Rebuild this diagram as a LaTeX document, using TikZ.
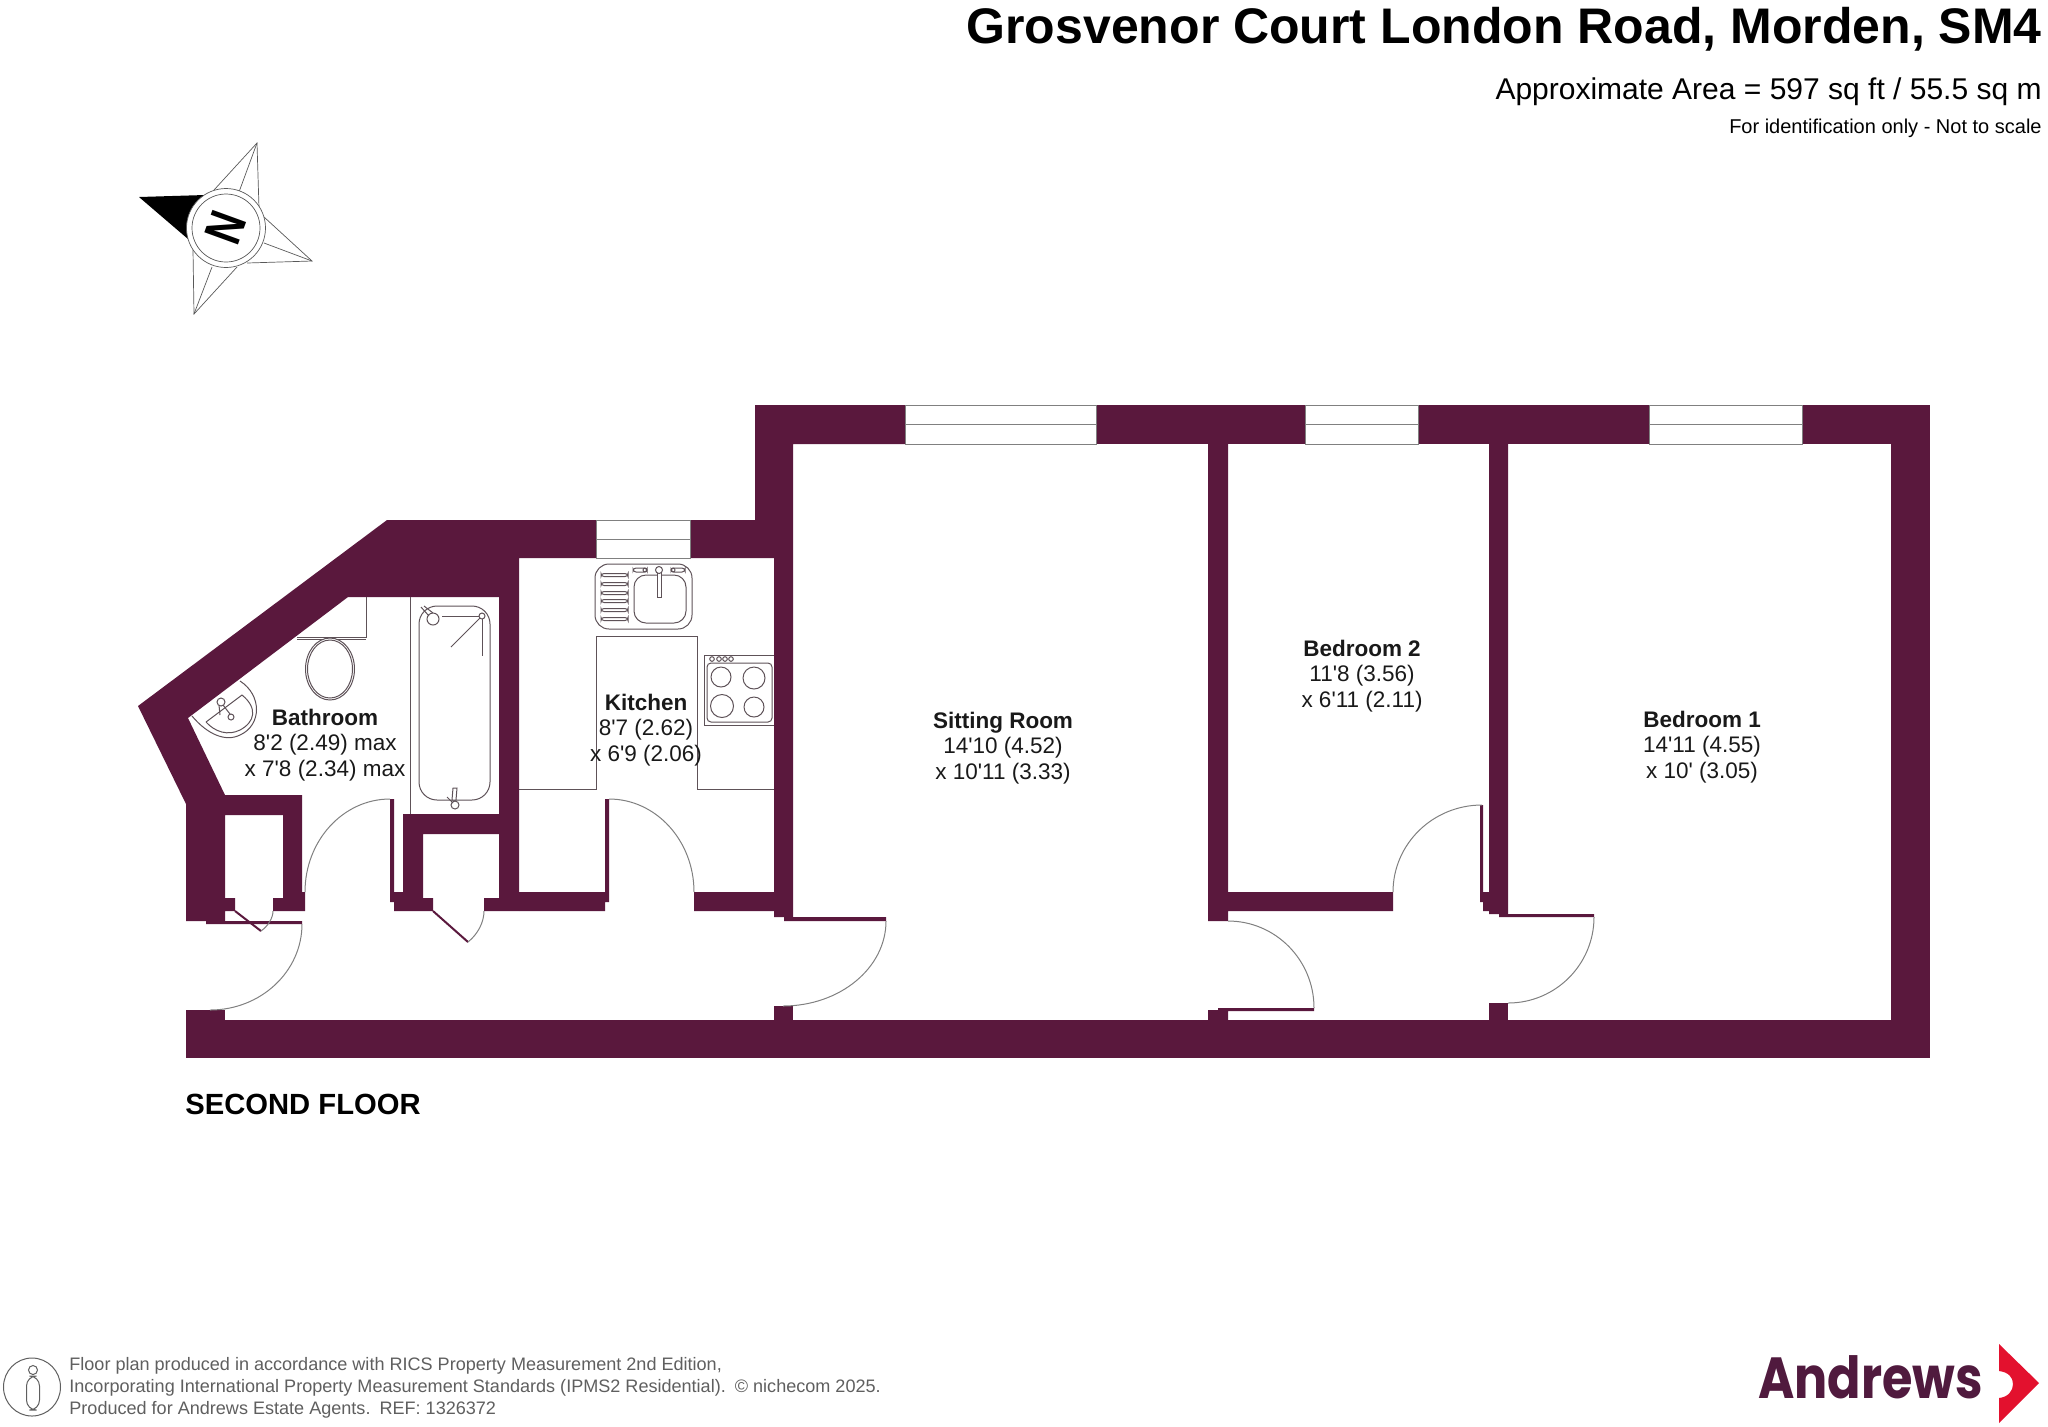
\documentclass[tikz,border=0pt]{standalone}
\usepackage{fontspec}
\newfontfamily\planfont{Liberation Sans}
\newfontfamily\logofont{Poppins}
\definecolor{wallplum}{HTML}{5A183D}
\definecolor{logoplum}{HTML}{501A3E}
\definecolor{logored}{HTML}{E3112E}
\definecolor{fixgray}{HTML}{5E5258}
\definecolor{notegray}{HTML}{5F5F5F}
\tikzset{
    wall/.style={fill=wallplum},
    fixture/.style={draw=fixgray, line width=0.5pt},
    swing/.style={draw=gray, line width=0.5pt},
    roomlabel/.style={font=\planfont\fontsize{11.25}{12.7}\selectfont, align=center, text=black!90},
    windowpane/.style={draw=gray, line width=0.4pt, fill=white},
    compassline/.style={draw=gray!70!black, line width=0.35pt}
}

\begin{document}
\begin{tikzpicture}[x=0.5pt, y=-0.5pt]
        \useasboundingbox (0,0) rectangle (2048,1426);

        \fill[wall] (387,520) -- (596,520) -- (596,558) -- (519,558) -- (519,911) -- (484,911) -- (484,898) -- (499,898) -- (499,597) -- (348,597) -- (188,718) -- (225,795) -- (302,795) -- (302,892) -- (305,892) -- (305,911) -- (273,911) -- (273,898) -- (283,898) -- (283,815) -- (225,815) -- (225,898) -- (235,898) -- (235,911) -- (225,911) -- (225,921) -- (302,921) -- (302,924) -- (206,924) -- (206,921) -- (186,921) -- (186,804) -- (138,706) -- cycle;
        \fill[wall] (403,814) -- (499,814) -- (499,834) -- (423,834) -- (423,898) -- (433,898) -- (433,911) -- (394,911) -- (394,902) -- (390,902) -- (390,799) -- (394,799) -- (394,892) -- (403,892) -- cycle;
        \fill[wall] (519,892) -- (605,892) -- (605,799) -- (609,799) -- (609,902) -- (605,902) -- (605,911) -- (519,911) -- cycle;
        \fill[wall] (690,520) -- (755,520) -- (755,405) -- (905,405) -- (905,444) -- (793,444) -- (793,917) -- (886,917) -- (886,921) -- (784,921) -- (784,917) -- (774,917) -- (774,911) -- (694,911) -- (694,892) -- (774,892) -- (774,558) -- (690,558) -- cycle;
        \fill[wall] (1208,444) -- (1228,444) -- (1228,892) -- (1393,892) -- (1393,911) -- (1228,911) -- (1228,921) -- (1208,921) -- cycle;
        \fill[wall] (1489,444) -- (1508,444) -- (1508,914) -- (1594,914) -- (1594,917) -- (1499,917) -- (1499,914) -- (1489,914) -- (1489,911) -- (1483,911) -- (1483,902) -- (1480,902) -- (1480,805) -- (1483,805) -- (1483,892) -- (1489,892) -- cycle;
        \fill[wall] (1096,405) rectangle (1305,444);
        \fill[wall] (1418,405) rectangle (1649,444);
        \fill[wall] (1802,405) rectangle (1930,444);
        \fill[wall] (1891,405) rectangle (1930,1058);
        \fill[wall] (186,1020) rectangle (1930,1058);
        \fill[wall] (186,1010) rectangle (225,1021);
        \fill[wall] (774,1006) rectangle (793,1021);
        \fill[wall] (1489,1003) rectangle (1508,1021);
        \fill[wall] (1208,1021) -- (1208,1010) -- (1218,1010) -- (1218,1008) -- (1314,1008) -- (1314,1011) -- (1228,1011) -- (1228,1021) -- cycle;

        \foreach \xa/\xb/\ya/\yb in {905/1096/405/444, 1305/1418/405/444, 1649/1802/405/444, 596/690/520/558} {
            \draw[windowpane] (\xa,\ya) rectangle (\xb,\yb);
            \draw[windowpane] (\xa,{(\ya+\yb)/2}) -- (\xb,{(\ya+\yb)/2});
        }

        \draw[swing] (302,924) arc[start angle=0, end angle=90, x radius=92, y radius=86];
        \draw[swing] (390,799) arc[start angle=-90, end angle=-180, x radius=85, y radius=93];
        \draw[swing] (609,799) arc[start angle=-90, end angle=0, x radius=85, y radius=93];
        \draw[swing] (886,921) arc[start angle=0, end angle=90, x radius=103, y radius=85];
        \draw[swing] (1314,1008) arc[start angle=0, end angle=-90, x radius=86, y radius=87];
        \draw[swing] (1393,892) arc[start angle=180, end angle=270, x radius=89, y radius=87];
        \draw[swing] (1594,917) arc[start angle=0, end angle=90, x radius=86, y radius=86];
        \draw[wallplum, line width=1pt] (235,911) -- (261,931);
        \draw[swing] (261,931) .. controls (268,926) and (273,918) .. (273,911);
        \draw[wallplum, line width=1pt] (433,911) -- (468,942);
        \draw[swing] (468,942) .. controls (478,934) and (484,922) .. (484,911);

        \draw[fixture] (410,597) -- (410,814);
        \draw[fixture, rounded corners=9] (419,606) rectangle (490,800);
        \fill[white] (433,619) circle (6);
        \draw[fixture] (433,619) circle (6);
        \draw[fixture] (421,607) -- (429,616);
        \draw[fixture] (424,606) -- (433,613);
        \draw[fixture] (482,616) circle (3);
        \draw[fixture] (442,616) -- (479,616);
        \draw[fixture] (480,618) -- (451,647);
        \draw[fixture] (482,619) -- (482,656);
        \draw[fixture, fill=white] (453,788) -- (452,800) -- (456,800) -- (457,788) -- cycle;
        \draw[fixture, fill=white] (455,805) circle (4);
        \draw[fixture] (447,797) -- (453,803);

        \draw[fixture] (366,597) -- (366,637) -- (297,637);
        \draw[fixture] (297,639) -- (366,639);
        \draw[fixture, fill=white] (330,669) ellipse [x radius=24.5, y radius=31];
        \draw[fixture] (330,669) ellipse [x radius=22.5, y radius=29];

        \draw[fixture] (240,681) .. controls (262,695) and (262,725) .. (240,735) .. controls (226,742) and (208,735) .. (192,716);
        \draw[fixture] (206,722) -- (242,695) .. controls (258,708) and (255,722) .. (240,730) .. controls (228,736) and (215,732) .. (206,722);
        \draw[fixture] (219,705) -- (220,715);
        \draw[fixture] (223,705) -- (230,714);
        \draw[fixture, fill=white] (221,702) circle (4);
        \draw[fixture, fill=white] (231,717) circle (3);

        \draw[fixture] (519,789) -- (596,789) -- (596,636) -- (697,636) -- (697,789) -- (774,789);
        \draw[fixture, rounded corners=7] (595,564) rectangle (692,629);
        \draw[fixture, rounded corners=6] (634,575) rectangle (686,623);
        \foreach \y in {575, 584, 593, 601, 610, 619}
            \draw[fixture, rounded corners=1.5] (601,\y-1.5) rectangle (628,\y+1.5);
        \draw[fixture, fill=white] (657,573) -- (657,597) -- (661,597) -- (661,573);
        \draw[fixture, fill=white] (659,570) circle (3.5);
        \draw[fixture, rounded corners=1.5] (633,568) rectangle (647,572);
        \draw[fixture, rounded corners=1.5] (671,568) rectangle (685,572);
        \draw[fixture] (645,570) circle (2);
        \draw[fixture] (673,570) circle (2);

        \draw[fixture] (774,655) -- (704,655) -- (704,725) -- (774,725);
        \draw[fixture, rounded corners=2] (707,663) rectangle (772,722);
        \foreach \x/\y/\r in {721/677/10, 754/678/11, 722/706/11.5, 754/707/10}
            \draw[fixture] (\x,\y) circle (\r);
        \foreach \x in {712, 719, 725, 731}
            \draw[fixture] (\x,659) circle (2.3);

        \node[roomlabel] (bathroom) at (325,745) {\textbf{Bathroom}\\8'2 (2.49) max\\x 7'8 (2.34) max};
        \node[roomlabel] (kitchen) at (646,730) {\textbf{Kitchen}\\8'7 (2.62)\\x 6'9 (2.06)};
        \node[roomlabel] (sittingroom) at (1003,748) {\textbf{Sitting Room}\\14'10 (4.52)\\x 10'11 (3.33)};
        \node[roomlabel] (bedroomtwo) at (1362,676) {\textbf{Bedroom 2}\\11'8 (3.56)\\x 6'11 (2.11)};
        \node[roomlabel] (bedroomone) at (1702,747) {\textbf{Bedroom 1}\\14'11 (4.55)\\x 10' (3.05)};

        \node[anchor=base west, inner sep=0pt, font=\planfont\bfseries\fontsize{14.6}{16}\selectfont] (floorname) at (185,1114) {SECOND FLOOR};

        \node[anchor=base east, inner sep=0pt, font=\planfont\bfseries\fontsize{25}{28}\selectfont] (title) at (2042,43) {Grosvenor Court London Road, Morden, SM4};
        \node[anchor=base east, inner sep=0pt, font=\planfont\fontsize{15}{17}\selectfont] (area) at (2042,99) {Approximate Area = 597 sq ft / 55.5 sq m};
        \node[anchor=base east, inner sep=0pt, font=\planfont\fontsize{10}{12}\selectfont] (notice) at (2042,133) {For identification only - Not to scale};

        \foreach \xa/\ya/\xb/\yb/\xc/\yc/\xd/\yd in {257/143/214/190/239/192/259/208, 312/261/264/217/264/243/247/263, 194/314/193/250/212/267/237/267} {
            \draw[compassline] (\xb,\yb) -- (\xa,\ya) -- (\xd,\yd);
            \draw[compassline] (\xa,\ya) -- (\xc,\yc);
        }
        \fill[black] (139,197) -- (205,195) -- (188,239) -- cycle;
        \fill[white] (226,228) circle (39.5);
        \draw[compassline] (226,228) circle (39.5);
        \draw[compassline] (226,228) circle (34);
        \node[rotate=70, xscale=0.78, inner sep=0pt, font=\planfont\bfseries\fontsize{26}{26}\selectfont] (northmark) at (226,228) {N};

        \draw[notegray, line width=0.5pt] (32,1387) ellipse [x radius=28.5, y radius=29];
        \draw[notegray, line width=0.5pt] (33,1370) circle (4.5);
        \draw[notegray, line width=0.5pt, rounded corners=5] (26.5,1376) rectangle (39.5,1410);
        \node[anchor=base west, inner sep=0pt, align=left, text=notegray, font=\planfont\fontsize{9.03}{11}\selectfont] (footnote) at (69,1414) {Floor plan produced in accordance with RICS Property Measurement 2nd Edition,\\Incorporating International Property Measurement Standards (IPMS2 Residential).\enspace\textcopyright{} nichecom 2025.\\Produced for Andrews Estate Agents.\enspace REF: 1326372};

        \node[anchor=base west, inner sep=0pt, xscale=0.85, text=logoplum, font=\logofont\bfseries\fontsize{29}{30}\selectfont] (logoword) at (1758,1398) {Andrews};
        \fill[logored] (1999,1344) -- (2039,1383) -- (1999,1423) -- (1999,1398) .. controls (2008,1397) and (2013,1391) .. (2013,1384) .. controls (2013,1377) and (2008,1372) .. (1999,1371) -- cycle;
    \end{tikzpicture}
\end{document}
